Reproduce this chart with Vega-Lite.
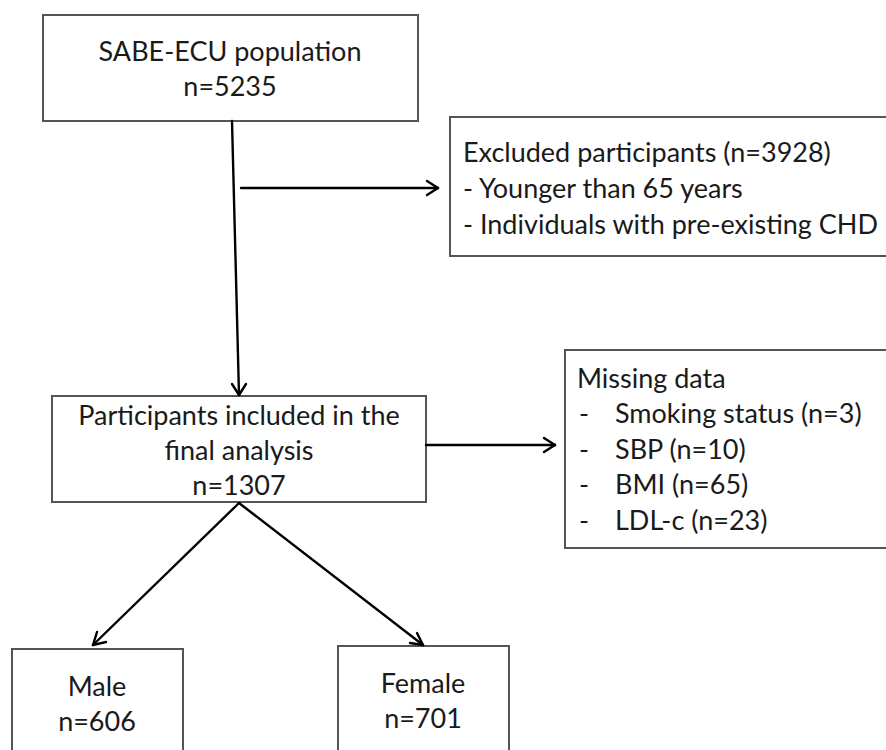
{
  "$schema": "https://vega.github.io/schema/vega-lite/v6.json",
  "width": 886,
  "height": 750,
  "padding": 0,
  "autosize": "none",
  "background": "white",
  "config": {"view": {"stroke": null}},
  "datasets": {
    "boxes": [
      {"id": "population", "x1": 43, "x2": 418, "y1": 15, "y2": 121},
      {"id": "excluded", "x1": 450, "x2": 895, "y1": 117, "y2": 256},
      {"id": "included", "x1": 52, "x2": 426, "y1": 396, "y2": 502},
      {"id": "missing", "x1": 565, "x2": 895, "y1": 350, "y2": 548},
      {"id": "male", "x1": 12, "x2": 183, "y1": 649, "y2": 770},
      {"id": "female", "x1": 338, "x2": 509, "y1": 646, "y2": 770}
    ],
    "lines": [
      {"seg": "main", "x1": 232, "y1": 121, "x2": 239, "y2": 395},
      {"seg": "main_h1", "x1": 239, "y1": 395, "x2": 232, "y2": 384},
      {"seg": "main_h2", "x1": 239, "y1": 395, "x2": 246, "y2": 384},
      {"seg": "excl", "x1": 241, "y1": 188, "x2": 438, "y2": 188},
      {"seg": "excl_h1", "x1": 438, "y1": 188, "x2": 427, "y2": 181},
      {"seg": "excl_h2", "x1": 438, "y1": 188, "x2": 427, "y2": 195},
      {"seg": "miss", "x1": 426, "y1": 445, "x2": 555, "y2": 445},
      {"seg": "miss_h1", "x1": 555, "y1": 445, "x2": 544, "y2": 438},
      {"seg": "miss_h2", "x1": 555, "y1": 445, "x2": 544, "y2": 452},
      {"seg": "male", "x1": 239, "y1": 503, "x2": 93, "y2": 645},
      {"seg": "male_h1", "x1": 93, "y1": 645, "x2": 106, "y2": 642},
      {"seg": "male_h2", "x1": 93, "y1": 645, "x2": 97, "y2": 632},
      {"seg": "female", "x1": 239, "y1": 503, "x2": 423, "y2": 645},
      {"seg": "female_h1", "x1": 423, "y1": 645, "x2": 410, "y2": 643},
      {"seg": "female_h2", "x1": 423, "y1": 645, "x2": 417, "y2": 633}
    ],
    "texts": [
      {"label": "SABE-ECU population", "x": 230, "y": 53, "align": "center"},
      {"label": "n=5235", "x": 230, "y": 88, "align": "center"},
      {"label": "Excluded participants (n=3928)", "x": 463, "y": 154, "align": "left"},
      {"label": "- Younger than 65 years", "x": 463, "y": 190, "align": "left"},
      {"label": "- Individuals with pre-existing CHD", "x": 463, "y": 226, "align": "left"},
      {"label": "Participants included in the", "x": 239, "y": 417, "align": "center"},
      {"label": "final analysis", "x": 239, "y": 452, "align": "center"},
      {"label": "n=1307", "x": 239, "y": 487, "align": "center"},
      {"label": "Missing data", "x": 577, "y": 380, "align": "left"},
      {"label": "-", "x": 579, "y": 415, "align": "left"},
      {"label": "Smoking status (n=3)", "x": 615, "y": 415, "align": "left"},
      {"label": "-", "x": 579, "y": 451, "align": "left"},
      {"label": "SBP (n=10)", "x": 615, "y": 451, "align": "left"},
      {"label": "-", "x": 579, "y": 486, "align": "left"},
      {"label": "BMI (n=65)", "x": 615, "y": 486, "align": "left"},
      {"label": "-", "x": 579, "y": 522, "align": "left"},
      {"label": "LDL-c (n=23)", "x": 615, "y": 522, "align": "left"},
      {"label": "Male", "x": 97, "y": 688, "align": "center"},
      {"label": "n=606", "x": 97, "y": 723, "align": "center"},
      {"label": "Female", "x": 423, "y": 685, "align": "center"},
      {"label": "n=701", "x": 423, "y": 720, "align": "center"}
    ]
  },
  "layer": [
    {
      "data": {"name": "boxes"},
      "mark": {"type": "rect", "fill": "white", "stroke": "#555555", "strokeWidth": 2, "clip": true},
      "encoding": {
        "x": {"field": "x1", "type": "quantitative", "scale": {"domain": [0, 886], "nice": false, "zero": false}, "axis": null},
        "x2": {"field": "x2"},
        "y": {"field": "y1", "type": "quantitative", "scale": {"domain": [0, 750], "nice": false, "zero": false, "reverse": true}, "axis": null},
        "y2": {"field": "y2"}
      }
    },
    {
      "data": {"name": "lines"},
      "mark": {"type": "rule", "stroke": "black", "strokeWidth": 2.4, "strokeCap": "round"},
      "encoding": {
        "x": {"field": "x1", "type": "quantitative"},
        "x2": {"field": "x2"},
        "y": {"field": "y1", "type": "quantitative"},
        "y2": {"field": "y2"}
      }
    },
    {
      "data": {"name": "texts"},
      "transform": [{"filter": "datum.align === 'center'"}],
      "mark": {"type": "text", "font": "Lato", "fontSize": 27, "color": "#1a1a1a", "baseline": "middle", "align": "center"},
      "encoding": {
        "x": {"field": "x", "type": "quantitative"},
        "y": {"field": "y", "type": "quantitative"},
        "text": {"field": "label"}
      }
    },
    {
      "data": {"name": "texts"},
      "transform": [{"filter": "datum.align === 'left'"}],
      "mark": {"type": "text", "font": "Lato", "fontSize": 27, "color": "#1a1a1a", "baseline": "middle", "align": "left"},
      "encoding": {
        "x": {"field": "x", "type": "quantitative"},
        "y": {"field": "y", "type": "quantitative"},
        "text": {"field": "label"}
      }
    }
  ]
}
